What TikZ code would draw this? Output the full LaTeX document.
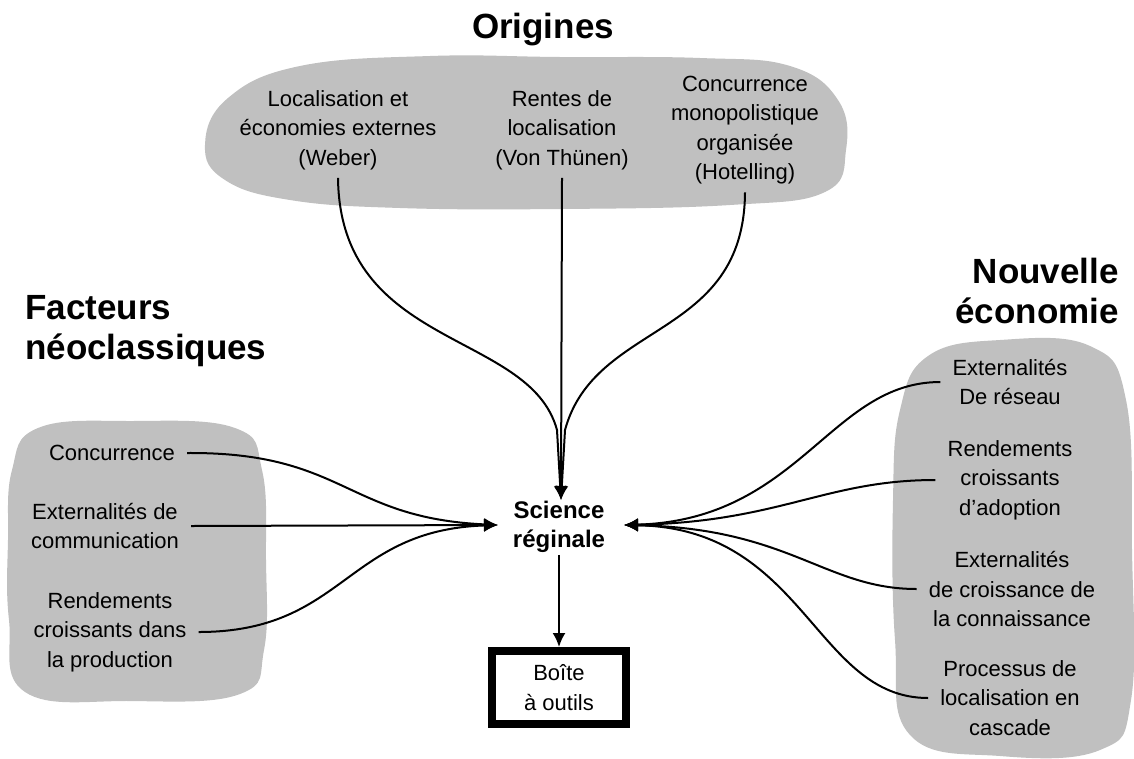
\documentclass[tikz,border=0pt]{standalone}
\usepackage{fontspec}
\setmainfont{Liberation Sans}
\usetikzlibrary{arrows.meta}
\definecolor{blobgray}{RGB}{192,192,192}
\begin{document}
\begin{tikzpicture}[x=1pt,y=-1pt,
  txt/.style={font=\fontsize{22}{29.5}\selectfont, align=center, inner xsep=12pt, inner ysep=8pt},
  ttl/.style={font=\bfseries\fontsize{35}{40}\selectfont, inner sep=0pt},
  blob/.style={fill=blobgray, draw=none},
  conn/.style={line width=2pt},
  arr/.style={conn, -{Latex[length=14pt,width=13pt]}}
]
\useasboundingbox (0,0) rectangle (1134,758);
\fill[white] (0,0) rectangle (1134,758);

% blobs
\path[blob] plot[smooth cycle, tension=0.7] coordinates {
  (205,145) (228,98) (300,66) (430,56) (560,57) (700,58) (790,66) (838,100)
  (846,150) (825,192) (730,205) (560,209) (400,208) (290,200) (225,180)};
\path[blob] plot[smooth cycle, tension=0.7] coordinates {
  (12,470) (38,428) (130,421) (235,428) (262,470) (266,560) (264,650)
  (240,694) (130,701) (25,692) (9,620) (8,540)};
\path[blob] plot[smooth cycle, tension=0.7] coordinates {
  (928,356) (1000,340) (1090,346) (1126,400) (1132,550) (1131,700)
  (1100,750) (1000,756) (910,735) (895,640) (893,500) (900,410)};

% titles
\node[ttl] (torig) at (543,30) {Origines};
\node[ttl, align=left, anchor=west] (tneo) at (25,331) {Facteurs\\néoclassiques};
\node[ttl, align=right, anchor=east] (tnouv) at (1119,291) {Nouvelle\\économie};

% top texts
\node[txt] (weber) at (338,130) {Localisation et\\économies externes\\(Weber)};
\node[txt] (thunen) at (562,130) {Rentes de\\localisation\\(Von Thünen)};
\node[txt] (hotel) at (745,130) {Concurrence\\monopolistique\\organisée\\(Hotelling)};

% left texts
\node[txt] (conc) at (112,453) {Concurrence};
\node[txt] (extcom) at (105,526) {Externalités de\\communication};
\node[txt] (rendprod) at (110,632) {Rendements\\croissants dans\\la production};

% right texts
\node[txt] (extres) at (1010,382) {Externalités\\De réseau};
\node[txt] (rendad) at (1010,480) {Rendements\\croissants\\d'adoption};
\node[txt] (extcon) at (1012,589) {Externalités\\de croissance de\\la connaissance};
\node[txt] (proc) at (1010,698) {Processus de\\localisation en\\cascade};

% centre
\node[font=\bfseries\fontsize{24}{29}\selectfont, align=center, inner sep=2pt] (sci) at (559,527) {Science\\réginale};
\node[draw, line width=8pt, minimum width=134pt, minimum height=73pt, font=\fontsize{22}{30}\selectfont, align=center, inner sep=0pt] (box) at (559,687.5) {Boîte\\à outils};

\coordinate (tipT) at (561,500);
\coordinate (tipL) at (498,525);
\coordinate (tipR) at (624,525);

% top connectors
\draw[arr] (weber.south) .. controls (340,350) and (530,330) .. (557,430) -- (tipT);
\draw[arr] (thunen.south) -- (tipT);
\draw[arr] (hotel.south) .. controls (744,340) and (595,320) .. (565,430) -- (tipT);

% left connectors
\draw[arr] (conc.east) .. controls (345,452) and (345,518) .. (tipL);
\draw[arr] (extcom.east) -- (tipL);
\draw[arr] (rendprod.east) .. controls (345,632) and (345,530) .. (tipL);

% right connectors
\draw[arr] (extres.west) .. controls (830,382) and (800,520) .. (tipR);
\draw[arr] (rendad.west) .. controls (825,480) and (780,522) .. (tipR);
\draw[arr] (extcon.west) .. controls (825,589) and (790,528) .. (tipR);
\draw[arr] (proc.west) .. controls (815,698) and (805,528) .. (tipR);

% down
\draw[arr] (sci.south) -- (box.north);
\end{tikzpicture}
\end{document}
